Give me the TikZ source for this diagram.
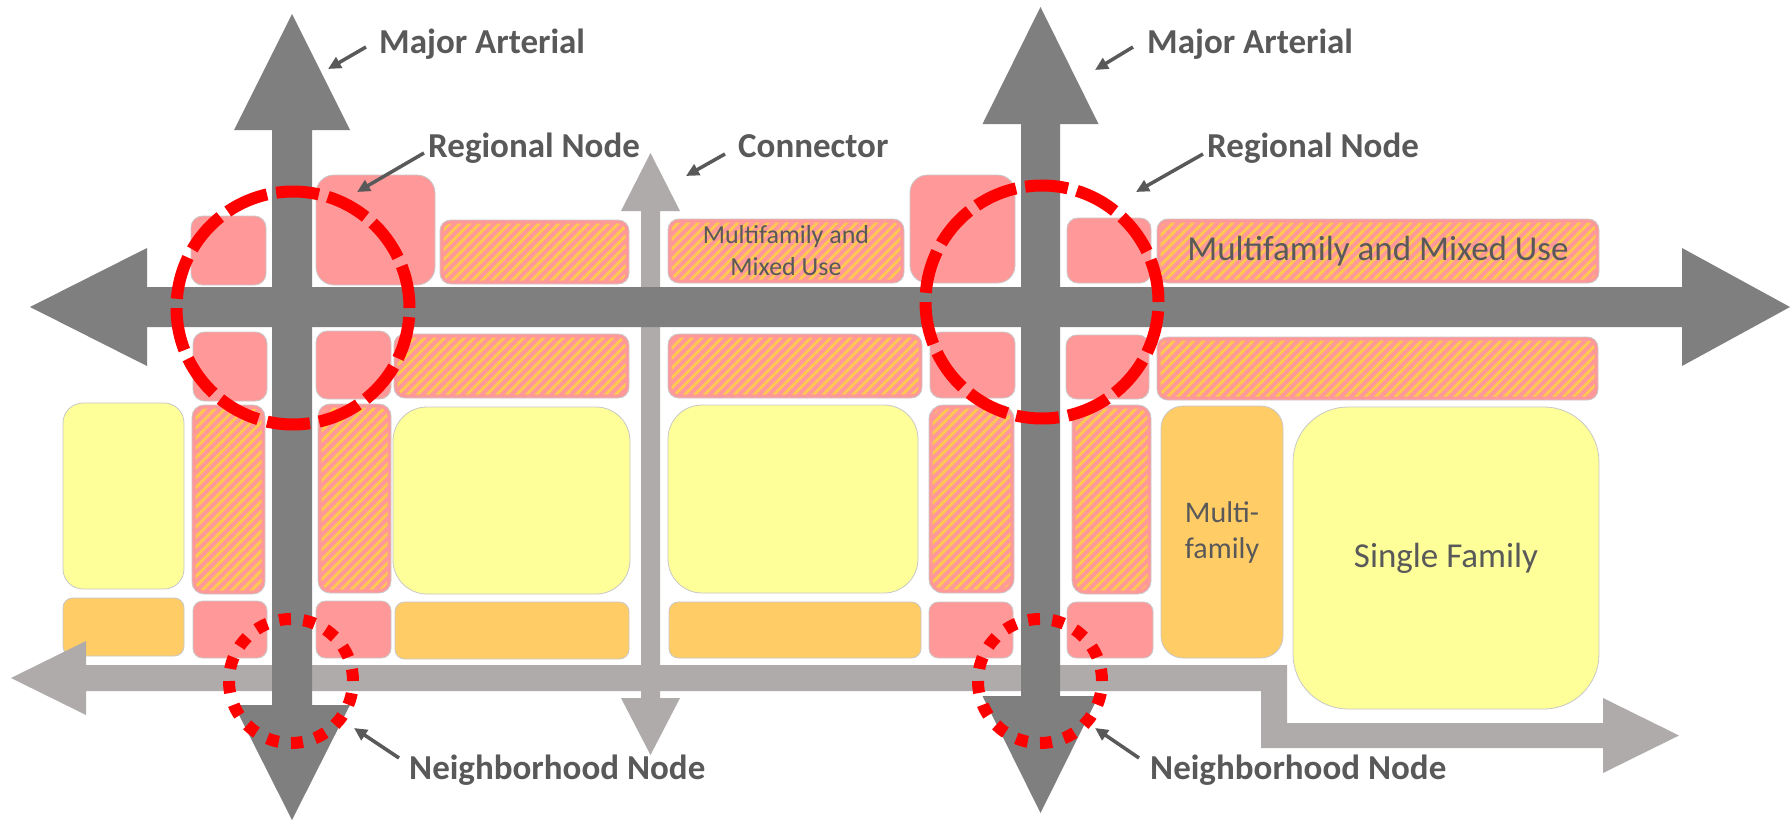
\documentclass[tikz,border=0pt]{standalone}
\usepackage{fontspec}
\setmainfont{Carlito}
\usetikzlibrary{fit,patterns.meta,arrows.meta}

\definecolor{artgray}{RGB}{127,127,127}
\definecolor{streetgray}{RGB}{175,171,171}
\definecolor{lotpink}{RGB}{255,153,153}
\definecolor{hatchorange}{RGB}{255,200,80}
\definecolor{lotyellow}{RGB}{255,255,153}
\definecolor{lotorange}{RGB}{255,204,102}
\definecolor{edgegray}{RGB}{200,200,200}
\definecolor{txtgray}{RGB}{89,89,89}
\definecolor{nodered}{RGB}{255,0,0}

\begin{document}
\begin{tikzpicture}[x=1pt,y=-1pt,
  lot/.style={draw=edgegray, line width=0.8pt, inner sep=0pt, outer sep=0pt},
  pinklot/.style={lot, fill=lotpink, rounded corners=#1pt},
  yellowlot/.style={lot, fill=lotyellow, rounded corners=#1pt},
  orangelot/.style={lot, fill=lotorange, rounded corners=#1pt},
  mixedlot/.style={lot, fill=lotpink, rounded corners=#1pt,
    path picture={
      \fill[pattern={Lines[angle=45,distance=7pt,line width=2.8pt]},
            pattern color=hatchorange, rounded corners=#1pt-3pt]
        ([shift={(3.5pt,3.5pt)}]path picture bounding box.south west)
        rectangle ([shift={(-3.5pt,-3.5pt)}]path picture bounding box.north east);}},
  lottext/.style={text=txtgray, inner sep=0pt, align=center},
  callout/.style={text=txtgray, inner sep=0pt, anchor=base west,
    font=\bfseries\fontsize{35pt}{42pt}\selectfont},
  pointer/.style={draw=txtgray, line width=3.5pt,
    -{Triangle[length=13pt,width=12pt]}},
  regional/.style={circle, draw=nodered, line width=12pt, inner sep=0pt,
    minimum size=233pt, dash pattern=on 43pt off 9.3pt},
  neighbourhood/.style={circle, draw=nodered, line width=12pt, inner sep=0pt,
    minimum size=124pt, dash pattern=on 12pt off 12.35pt}
]
\fill[white] (0,0) rectangle (1792,822);
\useasboundingbox (0,0) rectangle (1792,822);

% ---- lots above the main east-west arterial
\node[pinklot=11.5,  fit={(191,216) (266,285)}] (a1) {};
\node[pinklot=18,    fit={(316,175) (435,285)}] (a2) {};
\node[mixedlot=10.7, fit={(440,220) (629,284)}] (a3) {};
\node[mixedlot=10.7, fit={(668,219) (904,283)}] (e1) {};
\node[pinklot=17.5,  fit={(910,175) (1015,283)}] (e2) {};
\node[pinklot=10.8,  fit={(1067,218) (1151,283)}] (e3) {};
\node[mixedlot=10.7, fit={(1157,219) (1599,283)}] (e4) {};

% ---- lots below the main east-west arterial
\node[pinklot=11.5,  fit={(193,332) (267,401)}] (b1) {};
\node[pinklot=11.3,  fit={(316,331) (391,399)}] (b2) {};
\node[mixedlot=10.7, fit={(394,334) (629,398)}] (b3) {};
\node[mixedlot=10.7, fit={(668,334) (922,398)}] (f1) {};
\node[pinklot=11,    fit={(930,332) (1015,398)}] (f2) {};
\node[pinklot=10.7,  fit={(1066,335) (1149,399)}] (f3) {};
\node[mixedlot=10.5, fit={(1157,337) (1598,400)}] (f4) {};

% ---- middle row
\node[yellowlot=20,  fit={(63,403) (184,589)}] (c1) {};
\node[mixedlot=12,   fit={(192,405) (265,594)}] (c2) {};
\node[mixedlot=12,   fit={(318,404) (391,593)}] (c3) {};
\node[yellowlot=34,  fit={(393,407) (630,594)}] (c4) {};
\node[yellowlot=34,  fit={(668,405) (918,593)}] (g1) {};
\node[mixedlot=14,   fit={(929,405) (1014,593)}] (g2) {};
\node[mixedlot=13,   fit={(1072,405) (1151,594)}] (g3) {};
\node[orangelot=22,  fit={(1161,406) (1283,658)}] (g4) {};
\node[yellowlot=55,  fit={(1293,407) (1599,709)}] (sf) {};

% ---- bottom row
\node[orangelot=9.7, fit={(63,598) (184,656)}] (d1) {};
\node[pinklot=9.5,   fit={(193,601) (267,658)}] (d2) {};
\node[pinklot=9.5,   fit={(316,601) (391,658)}] (d3) {};
\node[orangelot=9.5, fit={(395,602) (629,659)}] (d4) {};
\node[orangelot=9.3, fit={(669,602) (921,658)}] (h2) {};
\node[pinklot=9.3,   fit={(929,602) (1013,658)}] (h3) {};
\node[pinklot=9.3,   fit={(1067,602) (1153,658)}] (h4) {};

% ---- land-use labels
\node[lottext, font=\fontsize{26pt}{32pt}\selectfont] (e1t) at (e1.center) {Multifamily and\\Mixed Use};
\node[lottext, font=\fontsize{35pt}{42pt}\selectfont] (e4t) at (e4.center) {Multifamily and Mixed Use};
\node[lottext, font=\fontsize{30pt}{36pt}\selectfont] (g4t) at (g4.center) {Multi-\\family};
\node[lottext, font=\fontsize{35pt}{42pt}\selectfont] (sft) at (sf.center) {Single Family};

% ---- neighbourhood street (light grey, with a jog at the east end)
\fill[streetgray] (11,678) -- (86,641) -- (86,665) -- (1287,665) -- (1287,723)
  -- (1603,723) -- (1603,698) -- (1679,735.5) -- (1603,773) -- (1603,748)
  -- (1261,748) -- (1261,691) -- (86,691) -- (86,715) -- cycle;

% ---- north-south connector
\fill[streetgray] (650.5,153) -- (680,211) -- (660,211) -- (660,698) -- (680,698)
  -- (650.5,755) -- (621,698) -- (641,698) -- (641,211) -- (621,211) -- cycle;

% ---- major arterials
\fill[artgray] (30,307) -- (147,248) -- (147,287) -- (1682,287) -- (1682,248)
  -- (1790,307) -- (1682,366) -- (1682,327) -- (147,327) -- (147,366) -- cycle;
\fill[artgray] (292,14) -- (350,130) -- (312,130) -- (312,705) -- (350,705)
  -- (292,820) -- (234,705) -- (272,705) -- (272,130) -- (234,130) -- cycle;
\fill[artgray] (1040.5,7) -- (1098.5,124) -- (1060,124) -- (1060,696) -- (1098.5,696)
  -- (1040.5,813) -- (982.5,696) -- (1021,696) -- (1021,124) -- (982.5,124) -- cycle;

% ---- regional and neighbourhood nodes
\node[regional] (rn1) at (293,308) {};
\node[regional] (rn2) at (1042,302) {};
\node[neighbourhood] (nn1) at (291,681) {};
\node[neighbourhood] (nn2) at (1040,681) {};

% ---- callouts
\node[callout] (ma1) at (379,53) {Major Arterial};
\node[callout] (ma2) at (1147,53) {Major Arterial};
\node[callout] (rg1) at (428,157) {Regional Node};
\node[callout] (cn)  at (738,157) {Connector};
\node[callout] (rg2) at (1207,157) {Regional Node};
\node[callout] (nb1) at (409,779) {Neighborhood Node};
\node[callout] (nb2) at (1150,779) {Neighborhood Node};

\coordinate (ma1s) at (366,47);   \coordinate (ma1e) at (328,69);
\coordinate (ma2s) at (1133,47);  \coordinate (ma2e) at (1095,70);
\coordinate (rg1s) at (424,153);  \coordinate (rg1e) at (357,192);
\coordinate (cns)  at (725,154);  \coordinate (cne)  at (686,176);
\coordinate (rg2s) at (1203,154); \coordinate (rg2e) at (1136,192);
\coordinate (nb1s) at (399,758);  \coordinate (nb1e) at (354,728);
\coordinate (nb2s) at (1139,758); \coordinate (nb2e) at (1095,728);

\draw[pointer] (ma1s) -- (ma1e);
\draw[pointer] (ma2s) -- (ma2e);
\draw[pointer] (rg1s) -- (rg1e);
\draw[pointer] (cns) -- (cne);
\draw[pointer] (rg2s) -- (rg2e);
\draw[pointer] (nb1s) -- (nb1e);
\draw[pointer] (nb2s) -- (nb2e);
\end{tikzpicture}
\end{document}
